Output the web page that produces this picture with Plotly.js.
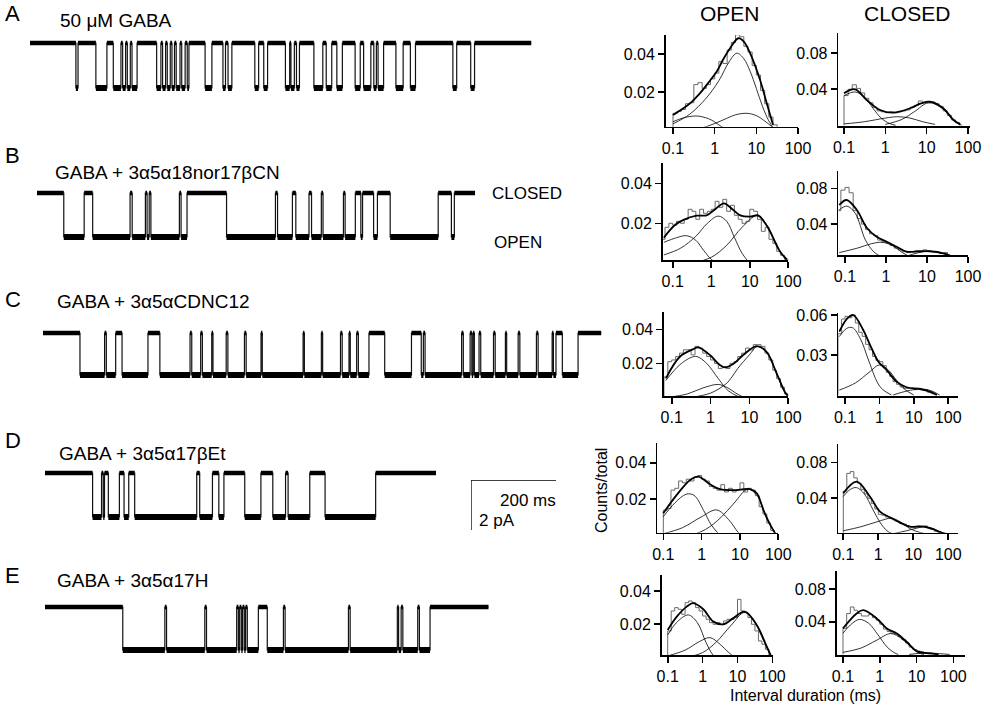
<!DOCTYPE html>
<html><head><meta charset="utf-8">
<script src="https://cdn.plot.ly/plotly-3.0.1.min.js"></script>
<style>html,body{margin:0;padding:0;background:#fff}#chart{width:986px;height:705px}</style>
</head><body><div id="chart"></div>
<script>
// ---------------- DATA ----------------
// Single-channel traces: open intervals [start, end] in ms, closed elsewhere
const traceIds = ['A', 'B', 'C', 'D', 'E'];
const traceTexts = ['50 \u03bcM GABA', 'GABA + 3\u03b15\u03b118nor17\u03b2CN', 'GABA + 3\u03b15\u03b1CDNC12', 'GABA + 3\u03b15\u03b117\u03b2Et', 'GABA + 3\u03b15\u03b117H'];
const traceDurMs = [1180, 1031, 1314, 920, 1044];
const traceAmpPa = [1.8, 1.76, 1.68, 1.76, 1.72];
const openA = [[108,113],[155,181],[196,214],[218,225],[229,236],[240,252],[298,308],[312,319],[323,330],[334,340],[344,353],[357,365],[370,374],[412,428],[454,460],[466,475],[529,538],[550,559],[601,611],[614,622],[627,634],[668,689],[697,710],[722,735],[765,777],[785,802],[809,815],[819,832],[861,878],[895,907],[995,1004],[1037,1046]];
const openB = [[63,111],[131,219],[224,255],[259,264],[268,335],[339,353],[446,561],[566,601],[609,640],[646,669],[673,721],[725,749],[762,766],[792,801],[831,944],[975,982]];
const openC = [[87,145],[149,171],[186,247],[275,346],[350,371],[375,397],[400,431],[435,474],[478,513],[516,612],[615,655],[658,700],[704,720],[723,738],[742,767],[804,867],[890,895],[899,985],[989,1005],[1009,1012],[1015,1026],[1030,1060],[1064,1088],[1091,1118],[1122,1161],[1165,1198],[1201,1207],[1222,1259]];
const openD = [[112,133],[137,140],[149,175],[186,197],[211,357],[364,394],[409,421],[470,508],[536,566],[572,623],[659,778]];
const openE = [[183,282],[286,376],[380,451],[455,458],[462,465],[469,472],[476,502],[523,561],[565,714],[718,829],[832,838],[842,877],[881,906]];
const scaleBarMs = 200, scaleBarPa = 2;

// Dwell-time histograms: log10(ms) of first bin edge, bin width 0.1 log units, counts/total
const openA_start = -1.0;
const openA_hist = [0.009,0.010,0.011,0.014,0.0145,0.024,0.025,0.022,0.024,0.027,0.030,0.036,0.035,0.042,0.046,0.050,0.049,0.044,0.041,0.034,0.029,0.021,0.014,0.007,0.003];
const closedA_start = -1.0;
const closedA_hist = [0.033,0.040,0.045,0.041,0.036,0.030,0.025,0.020,0.016,0.015,0.014,0.015,0.014,0.015,0.016,0.017,0.020,0.022,0.027,0.025,0.025,0.026,0.024,0.021,0.016,0.011,0.006,0.003];
const openB_start = -1.3;
const openB_hist = [0.012,0.018,0.020,0.019,0.021,0.020,0.022,0.027,0.026,0.022,0.027,0.025,0.026,0.027,0.031,0.028,0.032,0.026,0.029,0.024,0.022,0.020,0.021,0.027,0.026,0.022,0.016,0.018,0.012,0.010,0.006,0.004,0.002];
const closedB_start = -1.2;
const closedB_hist = [0.055,0.078,0.081,0.075,0.055,0.046,0.040,0.034,0.029,0.027,0.022,0.020,0.019,0.016,0.013,0.011,0.009,0.008,0.009,0.010,0.009,0.011,0.010,0.009,0.009,0.007,0.008,0.004,0.003,0.001];
const openC_start = -1.2;
const openC_hist = [0.012,0.021,0.022,0.024,0.026,0.028,0.028,0.025,0.030,0.029,0.026,0.024,0.022,0.020,0.017,0.018,0.017,0.020,0.021,0.024,0.026,0.029,0.028,0.031,0.031,0.030,0.026,0.022,0.016,0.011,0.006,0.002];
const closedC_start = -1.2;
const closedC_hist = [0.046,0.057,0.059,0.058,0.060,0.054,0.047,0.044,0.038,0.034,0.029,0.026,0.025,0.022,0.017,0.014,0.010,0.008,0.006,0.005,0.005,0.005,0.004,0.005,0.004,0.004,0.002,0.001];
const openD_start = -1.0;
const openD_hist = [0.014,0.015,0.025,0.026,0.030,0.029,0.031,0.030,0.032,0.033,0.031,0.030,0.027,0.026,0.025,0.028,0.024,0.026,0.024,0.025,0.029,0.024,0.026,0.025,0.022,0.016,0.012,0.007,0.003];
const closedD_start = -1.0;
const closedD_hist = [0.048,0.068,0.070,0.063,0.057,0.050,0.045,0.040,0.034,0.028,0.022,0.021,0.019,0.018,0.016,0.014,0.012,0.011,0.009,0.008,0.008,0.009,0.008,0.009,0.007,0.005,0.003,0.002,0.001];
const openE_start = -1.0;
const openE_hist = [0.016,0.028,0.030,0.029,0.026,0.033,0.034,0.033,0.030,0.028,0.025,0.023,0.021,0.020,0.021,0.020,0.022,0.023,0.023,0.024,0.035,0.028,0.027,0.024,0.020,0.016,0.010,0.008,0.005,0.001];
const closedE_start = -1.0;
const closedE_hist = [0.032,0.050,0.058,0.054,0.050,0.047,0.047,0.049,0.045,0.042,0.037,0.031,0.028,0.026,0.025,0.022,0.018,0.014,0.009,0.006,0.004,0.003,0.002,0.001];

// Fitted curves: [log10(ms), counts/total]
const openA_fit = [[-1.0,0.0081],[-0.75,0.0116],[-0.55,0.015],[-0.35,0.0195],[-0.15,0.025],[0.05,0.0308],[0.2,0.037],[0.37,0.043],[0.57,0.0482],[0.7,0.0465],[0.85,0.0404],[1.09,0.0264],[1.25,0.0142],[1.40,0.003]];
const openA_c1 = [[-1.0,0.0046],[-0.75,0.0066],[-0.43,0.0076],[-0.15,0.0062],[0.0,0.0045],[0.2,0.0015],[0.35,0.0]];
const openA_c2 = [[-1.0,0.0035],[-0.6,0.0085],[-0.2,0.017],[0.1,0.026],[0.35,0.036],[0.53,0.0404],[0.7,0.0375],[0.85,0.031],[1.0,0.022],[1.15,0.0125],[1.3,0.005],[1.42,0.001]];
const openA_c3 = [[-0.6,0.0],[-0.2,0.002],[0.2,0.0055],[0.5,0.0082],[0.77,0.009],[1.0,0.0078],[1.2,0.005],[1.4,0.0015]];
const closedA_fit = [[-1.0,0.0356],[-0.73,0.040],[-0.45,0.0281],[-0.128,0.017],[0.19,0.014],[0.6,0.0189],[0.85,0.024],[1.08,0.0262],[1.40,0.0189],[1.65,0.0059],[1.81,0.001]];
const closedA_c1 = [[-1.0,0.033],[-0.73,0.037],[-0.5,0.031],[-0.3,0.019],[-0.1,0.008],[0.1,0.002],[0.25,0.0]];
const closedA_c2 = [[-1.0,0.0015],[-0.5,0.004],[0.0,0.008],[0.3,0.0095],[0.6,0.008],[0.9,0.004],[1.2,0.001]];
const closedA_c3 = [[0.0,0.001],[0.4,0.0065],[0.7,0.015],[1.05,0.025],[1.4,0.018],[1.65,0.006],[1.85,0.0]];
const openB_fit = [[-1.23,0.0128],[-0.95,0.019],[-0.72,0.0217],[-0.38,0.0238],[-0.12,0.024],[0.1,0.027],[0.33,0.030],[0.55,0.027],[0.75,0.024],[1.0,0.0233],[1.22,0.024],[1.4,0.020],[1.53,0.0158],[1.79,0.0058],[1.96,0.002]];
const openB_c1 = [[-1.23,0.0105],[-0.9,0.0128],[-0.64,0.0138],[-0.4,0.0115],[-0.2,0.0065],[0.0,0.002],[0.15,0.0]];
const openB_c2 = [[-1.23,0.0042],[-0.8,0.0075],[-0.4,0.0135],[-0.1,0.02],[0.18,0.0236],[0.4,0.021],[0.6,0.013],[0.8,0.005],[1.0,0.0]];
const openB_c3 = [[-0.5,0.0],[0.0,0.003],[0.4,0.009],[0.8,0.018],[1.18,0.0237],[1.45,0.019],[1.7,0.0085],[1.95,0.0015]];
const closedB_fit = [[-1.14,0.0613],[-0.96,0.0669],[-0.71,0.0557],[-0.46,0.0352],[-0.23,0.0258],[0.02,0.0202],[0.26,0.0146],[0.5,0.009],[0.83,0.0095],[1.07,0.0095],[1.4,0.0072],[1.64,0.0034],[1.8,0.001]];
const closedB_c1 = [[-1.14,0.056],[-0.95,0.060],[-0.75,0.052],[-0.5,0.022],[-0.3,0.009],[-0.1,0.003],[0.05,0.0]];
const closedB_c2 = [[-1.14,0.008],[-0.7,0.013],[-0.35,0.018],[-0.1,0.0195],[0.15,0.016],[0.4,0.008],[0.6,0.003],[0.8,0.0]];
const closedB_c3 = [[0.2,0.0],[0.5,0.004],[0.8,0.008],[1.05,0.0093],[1.35,0.0075],[1.6,0.0035],[1.85,0.0]];
const openC_fit = [[-1.15,0.0112],[-0.79,0.0239],[-0.44,0.0284],[-0.32,0.0294],[-0.015,0.0249],[0.24,0.019],[0.37,0.0176],[0.58,0.0196],[0.84,0.0249],[1.185,0.0302],[1.44,0.0268],[1.7,0.0141],[1.91,0.0033],[1.98,0.001]];
const openC_c1 = [[-1.15,0.010],[-0.8,0.019],[-0.5,0.0235],[-0.35,0.024],[-0.1,0.020],[0.2,0.011],[0.45,0.004],[0.75,0.0]];
const openC_c2 = [[-1.1,0.0],[-0.6,0.002],[-0.2,0.0055],[0.2,0.0076],[0.45,0.0055],[0.65,0.0025],[0.85,0.0]];
const openC_c3 = [[-0.5,0.0],[0.0,0.0025],[0.4,0.008],[0.55,0.012],[0.7,0.017],[1.0,0.025],[1.2,0.0298],[1.45,0.0265],[1.7,0.014],[1.9,0.0035],[2.0,0.001]];
const closedC_fit = [[-1.166,0.0475],[-0.95,0.057],[-0.76,0.060],[-0.47,0.0488],[-0.27,0.0375],[-0.03,0.025],[0.21,0.01875],[0.5,0.010],[0.79,0.0058],[1.18,0.0045],[1.47,0.0025],[1.67,0.0]];
const closedC_c1 = [[-1.166,0.0438],[-0.95,0.050],[-0.78,0.0505],[-0.55,0.042],[-0.3,0.025],[-0.05,0.009],[0.1,0.004],[0.35,0.0]];
const closedC_c2 = [[-1.166,0.0037],[-0.7,0.009],[-0.3,0.017],[0.0,0.0225],[0.25,0.019],[0.5,0.011],[0.75,0.004],[1.0,0.0]];
const closedC_c3 = [[0.4,0.0],[0.8,0.003],[1.2,0.0045],[1.5,0.0032],[1.75,0.0]];
const openD_fit = [[-1.0,0.0124],[-0.65,0.0224],[-0.3,0.0306],[-0.086,0.0324],[0.22,0.0282],[0.48,0.0255],[0.83,0.025],[1.26,0.0255],[1.44,0.0233],[1.61,0.0142],[1.79,0.006],[1.96,0.0]];
const openD_c1 = [[-1.0,0.0105],[-0.7,0.018],[-0.4,0.0228],[-0.2,0.0222],[0.05,0.014],[0.25,0.006],[0.45,0.001]];
const openD_c2 = [[-1.0,0.0012],[-0.5,0.0045],[0.0,0.0105],[0.39,0.0142],[0.7,0.009],[0.95,0.002],[1.05,0.0]];
const openD_c3 = [[-0.3,0.0],[0.1,0.0035],[0.5,0.01],[0.85,0.018],[1.2,0.0255],[1.45,0.022],[1.7,0.0095],[1.95,0.0005]];
const closedD_fit = [[-1.0,0.0457],[-0.62,0.0588],[-0.24,0.042],[0.05,0.025],[0.33,0.0187],[0.62,0.0127],[0.9,0.0082],[1.29,0.0082],[1.57,0.0053],[1.76,0.002],[1.9,0.0]];
const closedD_c1 = [[-1.0,0.042],[-0.8,0.05],[-0.62,0.052],[-0.4,0.045],[-0.15,0.027],[0.1,0.01],[0.3,0.002],[0.45,0.0]];
const closedD_c2 = [[-1.0,0.0035],[-0.5,0.008],[0.0,0.014],[0.38,0.0176],[0.65,0.013],[0.9,0.006],[1.2,0.0015],[1.4,0.0]];
const closedD_c3 = [[0.4,0.0],[0.8,0.0035],[1.1,0.0065],[1.33,0.0082],[1.55,0.0062],[1.8,0.002],[2.0,0.0]];
const openE_fit = [[-1.0,0.0166],[-0.74,0.0246],[-0.455,0.0306],[-0.27,0.0327],[0.02,0.029],[0.31,0.0216],[0.59,0.020],[0.88,0.0237],[1.21,0.0276],[1.55,0.0196],[1.84,0.0066],[1.98,0.0]];
const openE_c1 = [[-1.0,0.0136],[-0.75,0.021],[-0.41,0.0256],[-0.15,0.021],[0.1,0.009],[0.3,0.0015],[0.4,0.0]];
const openE_c2 = [[-1.0,0.001],[-0.5,0.0045],[-0.1,0.0095],[0.21,0.012],[0.5,0.008],[0.75,0.003],[0.93,0.0]];
const openE_c3 = [[-0.5,0.0],[0.0,0.003],[0.4,0.0095],[0.8,0.019],[1.21,0.0272],[1.5,0.021],[1.75,0.01],[1.98,0.0]];
const closedE_fit = [[-1.0,0.0318],[-0.63,0.050],[-0.45,0.0542],[-0.085,0.044],[0.19,0.0318],[0.46,0.0257],[0.73,0.0155],[1.0,0.004],[1.37,0.0012],[1.6,0.0]];
const closedE_c1 = [[-1.0,0.026],[-0.75,0.038],[-0.55,0.0428],[-0.3,0.038],[-0.05,0.024],[0.2,0.009],[0.4,0.002],[0.5,0.0]];
const closedE_c2 = [[-1.0,0.0025],[-0.5,0.008],[-0.1,0.017],[0.3,0.0255],[0.6,0.019],[0.85,0.009],[1.05,0.002],[1.2,0.0]];
const closedE_c3 = [[0.8,0.0],[1.1,0.0015],[1.3,0.002],[1.6,0.001],[1.9,0.0]];

const xTickVals = [0.1, 1, 10, 100];
const xTickText = ['0.1', '1', '10', '100'];

// ---------------- LAYOUT HELPERS ----------------
const W = 986, H = 705;
const px = v => v / W;
const py = v => 1 - v / H;
const FONT = '"Liberation Sans", Arial, Helvetica, sans-serif';
const PX_PER_MS = 85 / 200;
const traceX0 = [30, 37, 43, 45, 45];
const traceClosedY = [43, 193, 333, 473, 607];
const openings = [openA, openB, openC, openD, openE];

const data = [];
const layout = {
  width: W, height: H, margin: {l: 0, r: 0, t: 0, b: 0},
  paper_bgcolor: '#fff', plot_bgcolor: 'rgba(0,0,0,0)',
  showlegend: false, font: {family: FONT, color: '#000'},
  annotations: [], shapes: []
};
const axName = (p, n) => p + (n === 1 ? '' : n);

// current traces: thin step line for transitions + thicker dwell bands
traceIds.forEach((id, i) => {
  const n = i + 1;
  const dur = traceDurMs[i], amp = traceAmpPa[i];
  const xa = axName('x', n), ya = axName('y', n);
  const xs = [0], ys = [0];
  const cx = [], cyv = [], ox = [], oy = [];
  let prev = 0;
  openings[i].forEach(([s, e]) => {
    xs.push(s, s, e, e); ys.push(0, -amp, -amp, 0);
    cx.push(prev, s, null); cyv.push(0, 0, null);
    ox.push(s, e, null); oy.push(-amp, -amp, null);
    prev = e;
  });
  xs.push(dur); ys.push(0);
  cx.push(prev, dur); cyv.push(0, 0);
  data.push({type: 'scatter', mode: 'lines', x: xs, y: ys, xaxis: xa, yaxis: ya,
    line: {color: '#111', width: 1.2}, hoverinfo: 'skip'});
  data.push({type: 'scatter', mode: 'lines', x: cx, y: cyv, xaxis: xa, yaxis: ya, connectgaps: false,
    line: {color: '#000', width: 4.5}, hoverinfo: 'skip'});
  data.push({type: 'scatter', mode: 'lines', x: ox, y: oy, xaxis: xa, yaxis: ya, connectgaps: false,
    line: {color: '#000', width: 6}, hoverinfo: 'skip'});
  const x0 = traceX0[i], cy = traceClosedY[i];
  layout[axName('xaxis', n)] = {domain: [px(x0), px(x0 + dur * PX_PER_MS)], range: [0, dur], visible: false, anchor: ya};
  layout[axName('yaxis', n)] = {domain: [py(cy + 60), py(cy - 20)], range: [-2.4, 0.8], visible: false, anchor: xa};
});

// scale bar
data.push({type: 'scatter', mode: 'lines', x: [scaleBarMs, 0, 0], y: [0, 0, -scaleBarPa], xaxis: 'x6', yaxis: 'y6',
  line: {color: '#000', width: 1.3}, hoverinfo: 'skip'});
layout.xaxis6 = {domain: [px(471), px(471 + scaleBarMs * PX_PER_MS)], range: [0, scaleBarMs], visible: false, anchor: 'y6'};
layout.yaxis6 = {domain: [py(480 + scaleBarPa * 25), py(480)], range: [-scaleBarPa, 0], visible: false, anchor: 'x6'};

// histogram panels
const panels = [
  {start: openA_start, hist: openA_hist, fit: openA_fit, comps: [openA_c1, openA_c2, openA_c3], L: 665.7, R: 798, T: 35, B: 126.7, xr: [-1.175, 2.0], yr: [0.002, 0.0499], yt: [0.02, 0.04]},
  {start: closedA_start, hist: closedA_hist, fit: closedA_fit, comps: [closedA_c1, closedA_c2, closedA_c3], L: 838.3, R: 970, T: 33.3, B: 126, xr: [-1.138, 2.05], yr: [-0.0008, 0.1022], yt: [0.04, 0.08]},
  {start: openB_start, hist: openB_hist, fit: openB_fit, comps: [openB_c1, openB_c2, openB_c3], L: 662.7, R: 788.3, T: 163.3, B: 260, xr: [-1.26, 2.0], yr: [0.00165, 0.05], yt: [0.02, 0.04]},
  {start: closedB_start, hist: closedB_hist, fit: closedB_fit, comps: [closedB_c1, closedB_c2, closedB_c3], L: 838.3, R: 968, T: 171, B: 255, xr: [-1.163, 2.0], yr: [0.0053, 0.0994], yt: [0.04, 0.08]},
  {start: openC_start, hist: openC_hist, fit: openC_fit, comps: [openC_c1, openC_c2, openC_c3], L: 664, R: 788.3, T: 311.7, B: 396, xr: [-1.198, 2.0], yr: [0.0008, 0.0504], yt: [0.02, 0.04]},
  {start: closedC_start, hist: closedC_hist, fit: closedC_fit, comps: [closedC_c1, closedC_c2, closedC_c3], L: 838.3, R: 958, T: 313.3, B: 396, xr: [-1.195, 2.285], yr: [-0.00075, 0.0613], yt: [0.03, 0.06]},
  {start: openD_start, hist: openD_hist, fit: openD_fit, comps: [openD_c1, openD_c2, openD_c3], L: 657.3, R: 778.3, T: 443.3, B: 532.7, xr: [-1.157, 2.0], yr: [0.00175, 0.0506], yt: [0.02, 0.04]},
  {start: closedD_start, hist: closedD_hist, fit: closedD_fit, comps: [closedD_c1, closedD_c2, closedD_c3], L: 838.3, R: 958.3, T: 444, B: 532.7, xr: [-1.143, 2.286], yr: [0.00135, 0.101], yt: [0.04, 0.08]},
  {start: openE_start, hist: openE_hist, fit: openE_fit, comps: [openE_c1, openE_c2, openE_c3], L: 661.7, R: 773.3, T: 575, B: 655, xr: [-1.172, 2.026], yr: [0.00156, 0.0496], yt: [0.02, 0.04]},
  {start: closedE_start, hist: closedE_hist, fit: closedE_fit, comps: [closedE_c1, closedE_c2, closedE_c3], L: 836.7, R: 965, T: 571, B: 655, xr: [-1.171, 2.315], yr: [-0.0007, 0.102], yt: [0.04, 0.08]}
];

panels.forEach((p, k) => {
  const n = 7 + k, xa = 'x' + n, ya = 'y' + n;
  const hx = [Math.pow(10, p.start)], hy = [0];
  p.hist.forEach((v, j) => { hx.push(Math.pow(10, p.start + j * 0.1)); hy.push(v); });
  const endEdge = Math.pow(10, p.start + p.hist.length * 0.1);
  hx.push(endEdge, endEdge); hy.push(p.hist[p.hist.length - 1], 0);
  data.push({type: 'scatter', mode: 'lines', x: hx, y: hy, xaxis: xa, yaxis: ya,
    line: {color: '#6a6a6a', width: 1, shape: 'hv'}, hoverinfo: 'skip'});
  p.comps.forEach(c => data.push({type: 'scatter', mode: 'lines', x: c.map(q => Math.pow(10, q[0])), y: c.map(q => q[1]),
    xaxis: xa, yaxis: ya, line: {color: '#000', width: 0.8, shape: 'spline', smoothing: 1}, hoverinfo: 'skip'}));
  data.push({type: 'scatter', mode: 'lines', x: p.fit.map(q => Math.pow(10, q[0])), y: p.fit.map(q => q[1]),
    xaxis: xa, yaxis: ya, line: {color: '#000', width: 1.8, shape: 'spline', smoothing: 1}, hoverinfo: 'skip'});
  const common = {showline: true, linecolor: '#000', linewidth: 1.6, ticks: 'outside', ticklen: 6, tickwidth: 1.6,
    tickcolor: '#000', tickfont: {size: 16, color: '#000', family: FONT}, showgrid: false, zeroline: false, fixedrange: true};
  layout['xaxis' + n] = Object.assign({}, common, {type: 'log', domain: [px(p.L), px(p.R)], range: p.xr, anchor: ya,
    tickvals: xTickVals, ticktext: xTickText});
  layout['yaxis' + n] = Object.assign({}, common, {domain: [py(p.B), py(p.T)], range: p.yr, anchor: xa,
    tickvals: p.yt, ticktext: p.yt.map(v => v.toFixed(2))});
});

// text
const ann = (text, x, y, size, xanchor, extra) => layout.annotations.push(Object.assign({
  text, x: px(x), y: py(y), xref: 'paper', yref: 'paper', showarrow: false, xanchor: xanchor || 'left', yanchor: 'middle',
  font: {size, color: '#000', family: FONT}}, extra || {}));
const letterY = [13, 155, 300, 440, 575];
const labelPos = [[58, 20], [53, 172], [55, 302], [57, 453], [55, 580]];
traceIds.forEach((id, i) => {
  ann(id, 3, letterY[i], 22);
  ann(traceTexts[i], labelPos[i][0], labelPos[i][1], 19);
});
ann('CLOSED', 490, 193, 17);
ann('OPEN', 492, 242, 17);
ann('OPEN', 730, 13, 21, 'center');
ann('CLOSED', 907, 13, 21, 'center');
ann(scaleBarMs + ' ms', 498, 500, 17);
ann(scaleBarPa + ' pA', 477, 520, 17);
ann('Counts/total', 601, 491, 16, 'center', {textangle: -90});
ann('Interval duration (ms)', 805, 695, 16, 'center');

Plotly.newPlot('chart', data, layout, {staticPlot: true, displayModeBar: false});
</script></body></html>
